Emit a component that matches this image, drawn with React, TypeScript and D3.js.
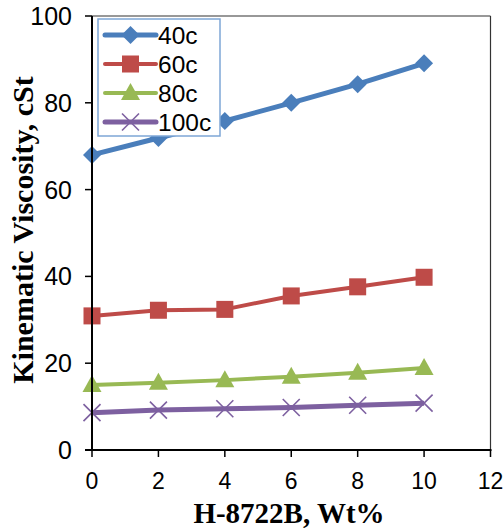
import React from "react";
import * as d3 from "d3";

const xValues = [0, 2, 4, 6, 8, 10];
const s40 = [68.0, 71.9, 75.8, 80.0, 84.3, 89.1];
const s60 = [30.9, 32.2, 32.4, 35.5, 37.6, 39.8];
const s80 = [15.0, 15.5, 16.1, 16.9, 17.8, 18.9];
const s100 = [8.6, 9.2, 9.5, 9.8, 10.3, 10.8];
const seriesNames = ["40c", "60c", "80c", "100c"];
const xTicks = [0, 2, 4, 6, 8, 10, 12];
const yTicks = [0, 20, 40, 60, 80, 100];

const colors = ["#4A7EBB", "#BE4B48", "#98B954", "#7D60A0"];
const markers = ["diamond", "square", "triangle", "x"];
const widths = [5, 4, 4, 5];

function Marker({ type, x, y, color }: { type: string; x: number; y: number; color: string }) {
  if (type === "diamond") {
    const r = 9;
    return <path d={`M${x},${y - r}L${x + r},${y}L${x},${y + r}L${x - r},${y}Z`} fill={color} />;
  }
  if (type === "square") {
    const s = 8.5;
    return <rect x={x - s} y={y - s} width={2 * s} height={2 * s} fill={color} />;
  }
  if (type === "triangle") {
    return <path d={`M${x},${y - 10}L${x + 9.5},${y + 7}L${x - 9.5},${y + 7}Z`} fill={color} />;
  }
  const r = 8.5;
  return (
    <path
      d={`M${x - r},${y - r}L${x + r},${y + r}M${x - r},${y + r}L${x + r},${y - r}`}
      stroke={color}
      strokeWidth={1.6}
      fill="none"
    />
  );
}

export default function App() {
  const W = 504;
  const H = 531;
  const left = 92;
  const right = 490.5;
  const top = 16;
  const bottom = 450;
  const x = d3.scaleLinear().domain([0, 12]).range([left, right]);
  const y = d3.scaleLinear().domain([0, 100]).range([bottom, top]);
  const all = [s40, s60, s80, s100];
  const line = d3
    .line<number>()
    .x((_, i) => x(xValues[i]))
    .y((d) => y(d));

  return (
    <svg
      width={W}
      height={H}
      style={{ position: "absolute", left: 0, top: 0, background: "#fff" }}
      fontFamily="'Liberation Sans', Arial, sans-serif"
    >
      <rect x={0} y={0} width={W} height={H} fill="#fff" />
      <line x1={left} x2={right} y1={top} y2={top} stroke="#333" strokeWidth={1.2} />
      <line x1={right} x2={right} y1={top} y2={bottom} stroke="#333" strokeWidth={1.2} />
      {all.map((s, k) => (
        <g key={k}>
          <path d={line(s) || ""} fill="none" stroke={colors[k]} strokeWidth={widths[k]} strokeLinejoin="round" />
          {s.map((v, i) => (
            <Marker key={i} type={markers[k]} x={x(xValues[i])} y={y(v)} color={colors[k]} />
          ))}
        </g>
      ))}
      <line x1={left} x2={left} y1={top} y2={bottom + 1} stroke="#000" strokeWidth={2} />
      <line x1={left - 7} x2={right + 1} y1={bottom} y2={bottom} stroke="#000" strokeWidth={2} />
      {yTicks.map((t) => (
        <g key={t}>
          <line x1={left - 7} x2={left} y1={y(t)} y2={y(t)} stroke="#000" strokeWidth={1.5} />
          <text x={72} y={y(t)} dy="0.36em" textAnchor="end" fontSize={25} fill="#000">
            {t}
          </text>
        </g>
      ))}
      {xTicks.map((t) => (
        <g key={t}>
          <line x1={x(t)} x2={x(t)} y1={bottom} y2={bottom + 7} stroke="#000" strokeWidth={1.5} />
          <text x={x(t)} y={488.5} textAnchor="middle" fontSize={23} fill="#000">
            {t}
          </text>
        </g>
      ))}
      <text
        x={289}
        y={523}
        textAnchor="middle"
        fontFamily="'Liberation Serif', 'Times New Roman', serif"
        fontWeight="bold"
        fontSize={29}
        fill="#000"
      >
        H-8722B, Wt%
      </text>
      <text
        transform={`translate(33,${(top + bottom) / 2 - 3}) rotate(-90)`}
        textAnchor="middle"
        fontFamily="'Liberation Serif', 'Times New Roman', serif"
        fontWeight="bold"
        fontSize={30}
        fill="#000"
      >
        Kinematic Viscosity, cSt
      </text>
      <rect x={98} y={19} width={122} height={117} fill="#fff" stroke="#7EA6D6" strokeWidth={1.5} />
      {seriesNames.map((n, k) => {
        const ly = 35 + k * 29;
        return (
          <g key={n}>
            <line x1={105} x2={156} y1={ly} y2={ly} stroke={colors[k]} strokeWidth={widths[k]} strokeLinecap="round" />
            <Marker type={markers[k]} x={130.5} y={ly} color={colors[k]} />
            <text x={158} y={ly} dy="0.36em" fontSize={24.5} fill="#000">
              {n}
            </text>
          </g>
        );
      })}
    </svg>
  );
}
